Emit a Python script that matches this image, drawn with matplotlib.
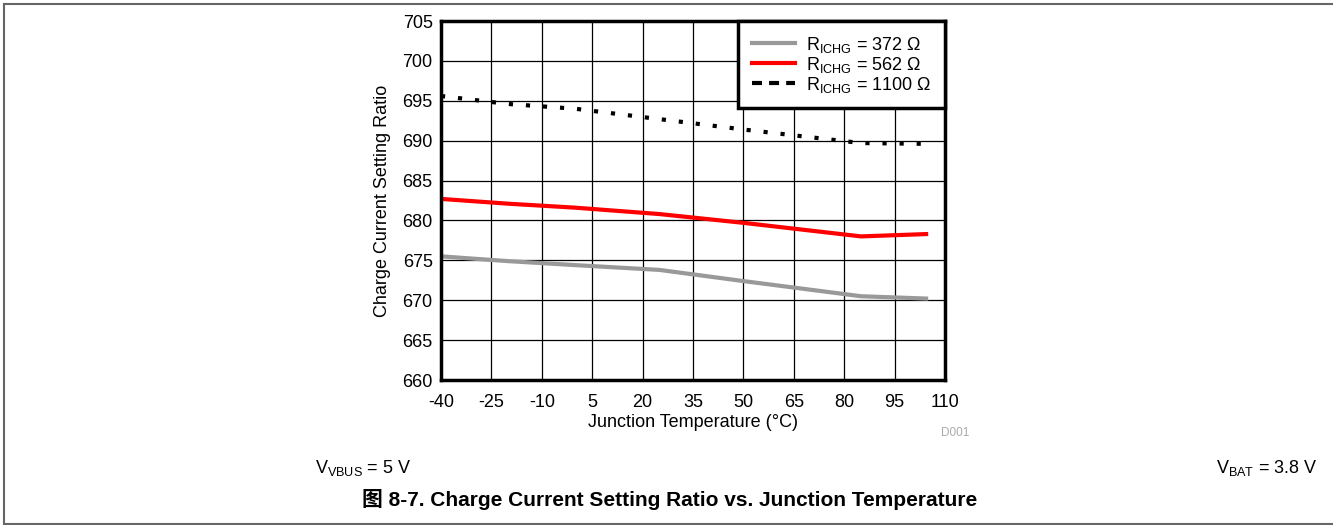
import matplotlib
matplotlib.use("Agg")
import matplotlib.pyplot as plt
from matplotlib.lines import Line2D

plt.rcParams['font.family'] = ['Liberation Sans', 'Noto Sans CJK SC', 'DejaVu Sans']
plt.rcParams['mathtext.fontset'] = 'custom'
plt.rcParams['mathtext.rm'] = 'Liberation Sans'
plt.rcParams['mathtext.it'] = 'Liberation Sans'
plt.rcParams['axes.unicode_minus'] = False

# data
temp = [-40, -20, 0, 25, 50, 85, 105]
r372 = [675.5, 674.9, 674.4, 673.8, 672.4, 670.5, 670.2]
r562 = [682.7, 682.1, 681.6, 680.8, 679.7, 678.0, 678.3]
r1100 = [695.6, 694.6, 694.0, 692.7, 691.4, 689.7, 689.6]
labels = [r"R$_{\mathrm{ICHG}}$ = 372 Ω", r"R$_{\mathrm{ICHG}}$ = 562 Ω",
          r"R$_{\mathrm{ICHG}}$ = 1100 Ω"]
xticks = [-40, -25, -10, 5, 20, 35, 50, 65, 80, 95, 110]
yticks = list(range(660, 706, 5))

fs = 13
fig = plt.figure(figsize=(13.33, 5.25), dpi=100)
ax = fig.add_axes([441 / 1333, 1 - 380 / 525, (945 - 441) / 1333, (380 - 21) / 525])

ax.plot(temp, r372, color='#999999', lw=3, label=labels[0], solid_capstyle='butt')
ax.plot(temp, r562, color='#ff0000', lw=3, label=labels[1], solid_capstyle='butt')
ax.plot(temp, r1100, color='black', lw=3, ls=(0, (1, 3.1)), label=labels[2])

ax.set_xlim(-40, 110)
ax.set_ylim(660, 705)
ax.set_xticks(xticks)
ax.set_yticks(yticks)
ax.tick_params(axis='x', length=0, labelsize=fs, pad=10)
ax.tick_params(axis='y', length=0, labelsize=fs, pad=6)
ax.grid(True, color='black', lw=0.9)
for s in ax.spines.values():
    s.set_linewidth(2.5)
ax.set_xlabel("Junction Temperature (°C)", fontsize=fs, labelpad=2)
ax.set_ylabel("Charge Current Setting Ratio", fontsize=fs, labelpad=8)

handles = [Line2D([], [], color='#999999', lw=3),
           Line2D([], [], color='#ff0000', lw=3),
           Line2D([], [], color='black', lw=3, ls=(0, (2.4, 1.7)))]
leg = ax.legend(handles, labels, loc='upper right', fontsize=fs, frameon=True,
                fancybox=False, borderaxespad=0, handlelength=2.4, handletextpad=0.6,
                labelspacing=0.0, borderpad=0.75)
leg.get_frame().set_edgecolor('black')
leg.get_frame().set_linewidth(2.5)
leg.get_frame().set_alpha(1)

fig.text(955 / 1333, 1 - 433 / 525, "D001", fontsize=8.5, color='#aaaaaa', ha='center', va='center')
fig.text(315 / 1333, 1 - 468 / 525, r"V$_{\mathrm{VBUS}}$ = 5 V", fontsize=fs, ha='left', va='center')
fig.text(1318 / 1333, 1 - 468 / 525, r"V$_{\mathrm{BAT}}$ = 3.8 V", fontsize=fs, ha='right', va='center')
fig.text(670 / 1333, 1 - 500 / 525, "图 8-7. Charge Current Setting Ratio vs. Junction Temperature",
         fontsize=15, fontweight='bold', ha='center', va='center')

# outer frame
fig.add_artist(Line2D([3.5 / 1333, 3.5 / 1333], [1 - 3.5 / 525, 1 - 524 / 525], transform=fig.transFigure, color='#666666', lw=1.5))
fig.add_artist(Line2D([3.5 / 1333, 1], [1 - 3.5 / 525, 1 - 3.5 / 525], transform=fig.transFigure, color='#666666', lw=1.5))
fig.add_artist(Line2D([3.5 / 1333, 1], [1 - 524 / 525, 1 - 524 / 525], transform=fig.transFigure, color='#666666', lw=1.5))

fig.savefig("out.png", dpi=100)
